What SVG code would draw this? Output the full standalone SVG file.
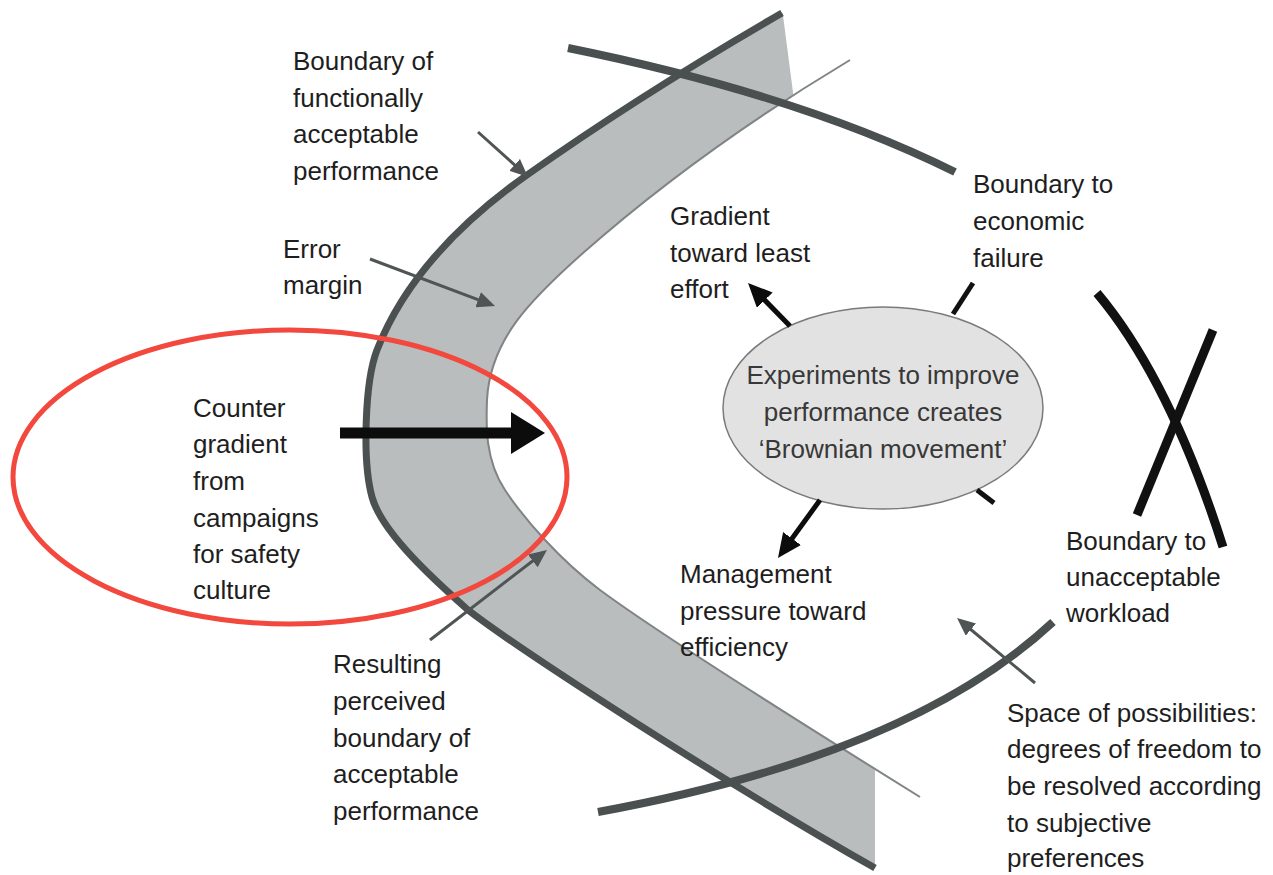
<svg xmlns="http://www.w3.org/2000/svg" width="1273" height="875" viewBox="0 0 1273 875">
  <style>
    .lbl { font-family: "Liberation Sans", Arial, Helvetica, sans-serif; font-size: 26px; fill: #1e1e1e; }
    .ctr { font-family: "Liberation Sans", Arial, Helvetica, sans-serif; font-size: 26px; fill: #383838; text-anchor: middle; }
    .band-fill { fill: #b9bdbd; stroke: none; }
    .band-outer { fill: none; stroke: #4b5050; stroke-width: 7; }
    .band-inner { fill: none; stroke: #7f8484; stroke-width: 2; }
    .limit { fill: none; stroke: #4a4f4f; stroke-width: 8; }
    .workload { fill: none; stroke: #111; stroke-width: 9; }
    .stub { fill: none; stroke: #111; stroke-width: 5; }
    .thin-arrow { fill: none; stroke: #4f5454; stroke-width: 3; }
    .bold-arrow { fill: none; stroke: #0c0c0c; stroke-width: 5; }
    .big-arrow { fill: none; stroke: #0c0c0c; stroke-width: 11; }
  </style>
  <defs>
    <marker id="head-grey" markerUnits="userSpaceOnUse" markerWidth="18" markerHeight="16" refX="4" refY="8" orient="auto">
      <path d="M0,0 L18,8 L0,16 z" fill="#4f5454"/>
    </marker>
    <marker id="head-black" markerUnits="userSpaceOnUse" markerWidth="24" markerHeight="22" refX="4" refY="11" orient="auto">
      <path d="M0,0 L24,11 L0,22 z" fill="#0c0c0c"/>
    </marker>
    <marker id="head-big" markerUnits="userSpaceOnUse" markerWidth="34" markerHeight="42" refX="4" refY="21" orient="auto">
      <path d="M0,0 L34,21 L0,42 z" fill="#0c0c0c"/>
    </marker>
    <clipPath id="band-clip">
      <path d="M0,0 L781,0 L794,100 L875,100 L875,875 L0,875 z"/>
    </clipPath>
  </defs>

  <rect width="1273" height="875" fill="#ffffff"/>

  <!-- error margin band between the two performance boundaries -->
  <g id="error-margin-band">
    <path class="band-fill" clip-path="url(#band-clip)"
          d="M782,13 Q640,95 527,175 Q414,255 377,350 C365,381 362,460 372,497 C382,534 440,585 468,610 C520,650 720,780 875,868
             L920,868 L920,797
             C780,710 650,627 600,590 C560,560 525,520 505,490 C485,460 486,425 487,400 C490,340 530,300 583,253 Q700,150 850,60
             L850,13 z"/>
    <path class="band-inner" d="M850,60 Q700,150 583,253 C530,300 490,340 487,400 C486,425 485,460 505,490 C525,520 560,560 600,590 C650,627 780,710 920,797"/>
    <path class="band-outer" d="M782,13 Q640,95 527,175 Q414,255 377,350 C365,381 362,460 372,497 C382,534 440,585 468,610 C520,650 720,780 875,868"/>
  </g>

  <!-- boundary to economic failure (top) and lower limit arc -->
  <g id="economic-boundary">
    <path class="limit" d="M568,48 Q800,95 955,172"/>
  </g>
  <g id="space-boundary">
    <path class="limit" d="M598,812 Q910,755 1053,622"/>
  </g>

  <!-- boundary to unacceptable workload -->
  <g id="workload-boundary">
    <path class="workload" d="M1097,293 Q1170,380 1223,547"/>
    <path class="workload" d="M1213,330 L1137,515"/>
  </g>

  <!-- central process -->
  <g id="brownian-node">
    <ellipse cx="883" cy="408" rx="160" ry="101" fill="#e2e2e2" stroke="#7a7a7a" stroke-width="1.5"/>
    <text class="ctr" x="883" y="384">Experiments to improve</text>
    <text class="ctr" x="883" y="421">performance creates</text>
    <text class="ctr" x="883" y="458">‘Brownian movement’</text>
  </g>

  <g id="connectors">
    <line class="stub" x1="953" y1="314" x2="973" y2="283"/>
    <line class="stub" x1="977" y1="490" x2="994" y2="503"/>
    <line class="bold-arrow" x1="790" y1="326" x2="762" y2="297.3" marker-end="url(#head-black)"/>
    <line class="bold-arrow" x1="820" y1="500" x2="789.7" y2="541.8" marker-end="url(#head-black)"/>
    <line class="big-arrow" x1="340" y1="433" x2="515" y2="433" marker-end="url(#head-big)"/>
    <line class="thin-arrow" x1="478" y1="132" x2="517.6" y2="167.6" marker-end="url(#head-grey)"/>
    <line class="thin-arrow" x1="370" y1="259" x2="481.9" y2="301.1" marker-end="url(#head-grey)"/>
    <line class="thin-arrow" x1="430" y1="640" x2="535.9" y2="558.5" marker-end="url(#head-grey)"/>
    <line class="thin-arrow" x1="1035" y1="683" x2="967.8" y2="627" marker-end="url(#head-grey)"/>
  </g>

  <g id="label-functional-boundary">
    <text class="lbl" x="293" y="70">Boundary of</text>
    <text class="lbl" x="293" y="107">functionally</text>
    <text class="lbl" x="293" y="143">acceptable</text>
    <text class="lbl" x="293" y="180">performance</text>
  </g>
  <g id="label-error-margin">
    <text class="lbl" x="283" y="258">Error</text>
    <text class="lbl" x="283" y="294">margin</text>
  </g>
  <g id="label-counter-gradient">
    <text class="lbl" x="193" y="417">Counter</text>
    <text class="lbl" x="193" y="453">gradient</text>
    <text class="lbl" x="193" y="490">from</text>
    <text class="lbl" x="193" y="527">campaigns</text>
    <text class="lbl" x="193" y="563">for safety</text>
    <text class="lbl" x="193" y="599">culture</text>
  </g>
  <g id="label-perceived-boundary">
    <text class="lbl" x="333" y="673">Resulting</text>
    <text class="lbl" x="333" y="710">perceived</text>
    <text class="lbl" x="333" y="747">boundary of</text>
    <text class="lbl" x="333" y="783">acceptable</text>
    <text class="lbl" x="333" y="820">performance</text>
  </g>
  <g id="label-least-effort">
    <text class="lbl" x="670" y="225">Gradient</text>
    <text class="lbl" x="670" y="262">toward least</text>
    <text class="lbl" x="670" y="298">effort</text>
  </g>
  <g id="label-economic-failure">
    <text class="lbl" x="973" y="193">Boundary to</text>
    <text class="lbl" x="973" y="230">economic</text>
    <text class="lbl" x="973" y="267">failure</text>
  </g>
  <g id="label-management-pressure">
    <text class="lbl" x="680" y="583">Management</text>
    <text class="lbl" x="680" y="620">pressure toward</text>
    <text class="lbl" x="680" y="656">efficiency</text>
  </g>
  <g id="label-workload">
    <text class="lbl" x="1066" y="550">Boundary to</text>
    <text class="lbl" x="1066" y="586">unacceptable</text>
    <text class="lbl" x="1066" y="622">workload</text>
  </g>
  <g id="label-space">
    <text class="lbl" x="1007" y="722">Space of possibilities:</text>
    <text class="lbl" x="1007" y="758">degrees of freedom to</text>
    <text class="lbl" x="1007" y="795">be resolved according</text>
    <text class="lbl" x="1007" y="832">to subjective</text>
    <text class="lbl" x="1007" y="867">preferences</text>
  </g>

  <!-- highlight around the counter gradient -->
  <g id="highlight">
    <ellipse cx="290" cy="477" rx="277" ry="147" fill="none" stroke="#f2483d" stroke-width="5"/>
  </g>
</svg>
